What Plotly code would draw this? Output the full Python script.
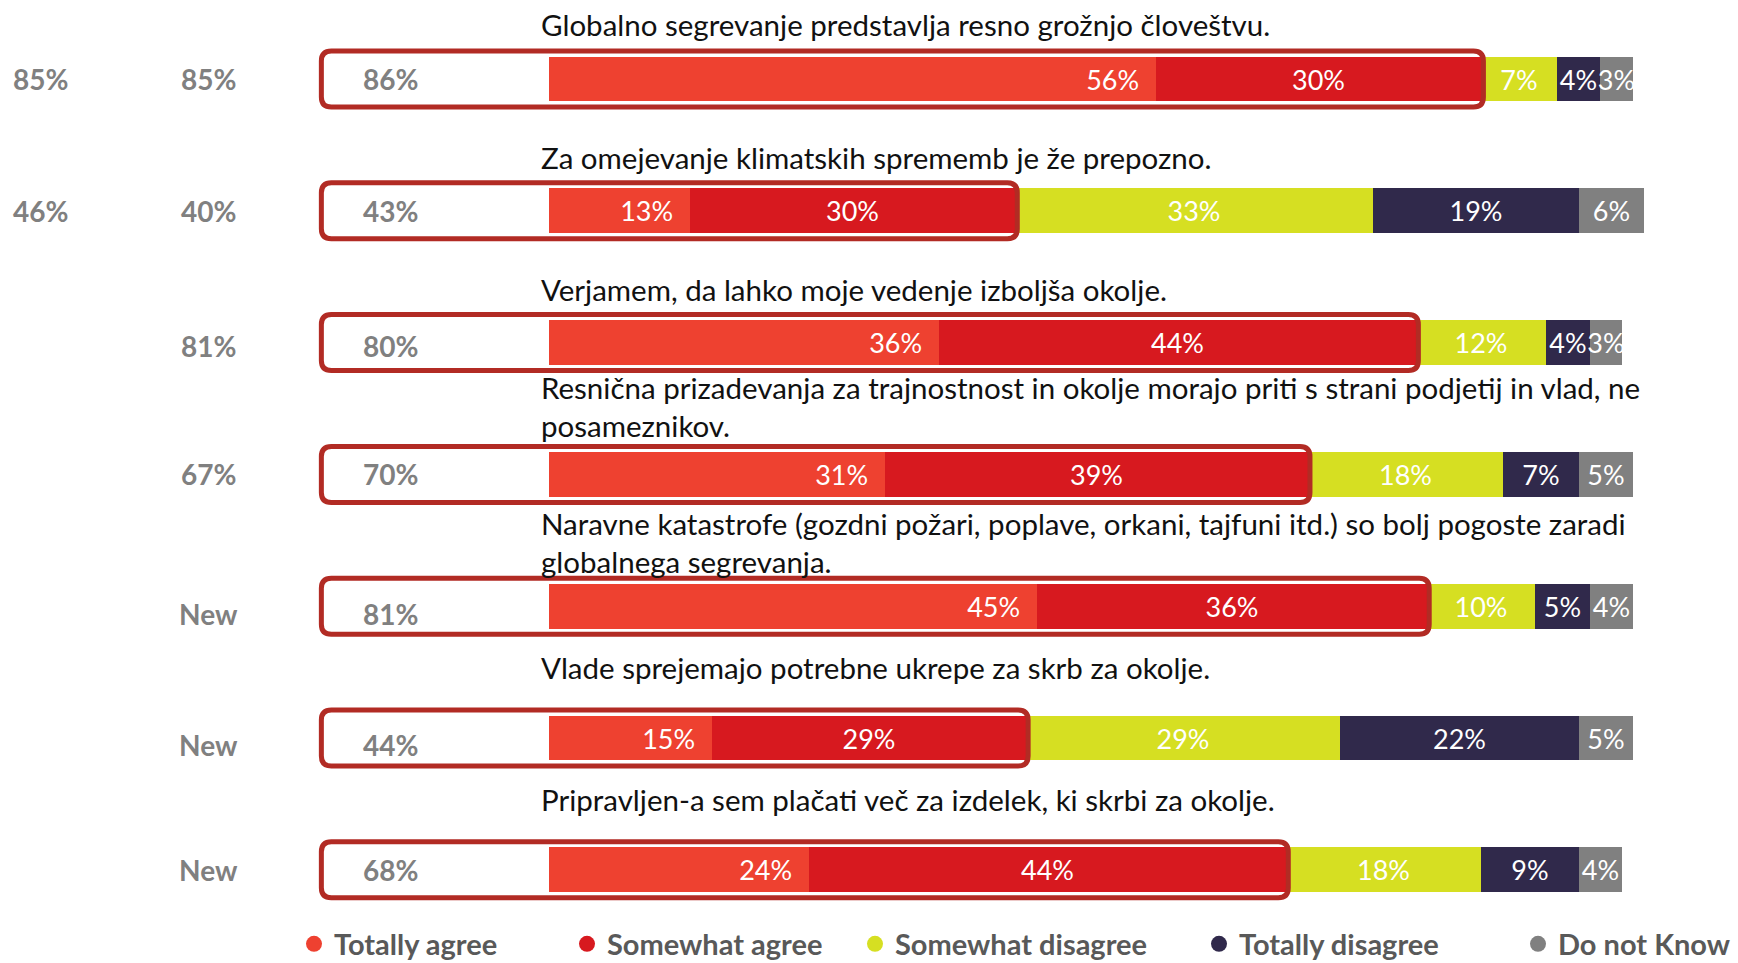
import plotly.graph_objects as go

# Survey statements (one per row, top to bottom)
questions = [
    "Globalno segrevanje predstavlja resno grožnjo človeštvu.",
    "Za omejevanje klimatskih sprememb je že prepozno.",
    "Verjamem, da lahko moje vedenje izboljša okolje.",
    "Resnična prizadevanja za trajnostnost in okolje morajo priti s strani podjetij in vlad, ne<br>posameznikov.",
    "Naravne katastrofe (gozdni požari, poplave, orkani, tajfuni itd.) so bolj pogoste zaradi<br>globalnega segrevanja.",
    "Vlade sprejemajo potrebne ukrepe za skrb za okolje.",
    "Pripravljen-a sem plačati več za izdelek, ki skrbi za okolje.",
]

# Answer shares (%)
totally_agree = [56, 13, 36, 31, 45, 15, 24]
somewhat_agree = [30, 30, 44, 39, 36, 29, 44]
somewhat_disagree = [7, 33, 12, 18, 10, 29, 18]
totally_disagree = [4, 19, 4, 7, 5, 22, 9]
do_not_know = [3, 6, 3, 5, 4, 5, 4]

# Agreement totals: current wave and two earlier waves
agree_total = [86, 43, 80, 70, 81, 44, 68]
earlier_wave = ["85%", "40%", "81%", "67%", "New", "New", "New"]
earliest_wave = ["85%", "46%", "", "", "", "", ""]

series = [
    ("Totally agree", totally_agree, "#EE4130"),
    ("Somewhat agree", somewhat_agree, "#D7191F"),
    ("Somewhat disagree", somewhat_disagree, "#D6DF22"),
    ("Totally disagree", totally_disagree, "#30294B"),
    ("Do not Know", do_not_know, "#808080"),
]

FONT = "Lato"
rows = list(range(len(questions)))

fig = go.Figure()
for k, (name, vals, color) in enumerate(series):
    first = k == 0
    fig.add_trace(go.Bar(
        y=rows, x=vals, orientation="h", name=name,
        marker=dict(color=color, line=dict(width=0)),
        width=0.34,
        texttemplate="%{x}%\u00a0\u00a0" if first else "%{x}%",
        textposition="inside",
        insidetextanchor="end" if first else "middle",
        textangle=0,
        textfont=dict(family=FONT, size=27, color="white"),
        showlegend=False, hoverinfo="skip",
    ))

# Legend entries with round markers, each in its own legend box
legend_x = [314, 587, 875, 1219, 1538]
for k, (name, vals, color) in enumerate(series):
    key = "legend" if k == 0 else f"legend{k + 1}"
    fig.add_trace(go.Scatter(
        x=[None], y=[None], mode="markers", name=name,
        marker=dict(symbol="circle", size=18, color=color),
        legend=key, showlegend=True,
    ))
    fig.update_layout({key: dict(
        x=(legend_x[k] - 20) / 1738, y=1 - 944 / 963,
        xanchor="left", yanchor="middle",
        bgcolor="rgba(0,0,0,0)",
        font=dict(family=FONT, size=29, color="#595959", weight="bold"),
        itemsizing="trace",
    )})


def rounded_box(x0, x1, y0, y1, rx, ry):
    return (
        f"M {x0 + rx},{y0} L {x1 - rx},{y0} Q {x1},{y0} {x1},{y0 + ry} "
        f"L {x1},{y1 - ry} Q {x1},{y1} {x1 - rx},{y1} "
        f"L {x0 + rx},{y1} Q {x0},{y1} {x0},{y1 - ry} "
        f"L {x0},{y0 + ry} Q {x0},{y0} {x0 + rx},{y0} Z"
    )


PX_X = 10.84   # pixels per percentage point
PX_Y = 131.8   # pixels per row
box_left = -21.0
half_h = 28 / PX_Y
rx, ry = 10 / PX_X, 10 / PX_Y
# small vertical nudges (px, positive = down) of row texts
label_nudge = [0, 0, 3, 0, 8, 7, 0]
question_nudge = [-1, 0, 0, 4, 8, -17, -17]

annotations = []
shapes = []
for i in rows:
    total = totally_agree[i] + somewhat_agree[i]
    shapes.append(dict(
        type="path", xref="x", yref="y", layer="above",
        path=rounded_box(box_left, total + 0.2, i - half_h, i + half_h, rx, ry),
        line=dict(color="#B22B24", width=5), fillcolor="rgba(0,0,0,0)",
    ))
    annotations.append(dict(
        x=-0.9, y=i - 0.255 + question_nudge[i] / PX_Y, xref="x", yref="y",
        text=questions[i],
        xanchor="left", yanchor="bottom", align="left", showarrow=False,
        font=dict(family=FONT, size=29.5, color="#111111"),
    ))
    for xpos, txt in ((-14.6, f"{agree_total[i]}%"), (-31.4, earlier_wave[i]),
                      (-46.9, earliest_wave[i])):
        if txt:
            annotations.append(dict(
                x=xpos, y=i + label_nudge[i] / PX_Y, xref="x", yref="y",
                text=txt, showarrow=False,
                xanchor="center", yanchor="middle",
                font=dict(family=FONT, size=28, color="#808080", weight="bold"),
            ))

fig.update_layout(
    width=1738, height=963,
    margin=dict(l=0, r=0, t=0, b=0, autoexpand=False),
    paper_bgcolor="white", plot_bgcolor="white",
    barmode="stack", bargap=0,
    uniformtext=dict(minsize=27, mode="show"),
    xaxis=dict(range=[-549 / PX_X, (1738 - 549) / PX_X], visible=False, fixedrange=True),
    yaxis=dict(range=[(963 - 79) / PX_Y, -79 / PX_Y], visible=False, fixedrange=True),
    shapes=shapes, annotations=annotations,
)

fig.write_html("out.html")
